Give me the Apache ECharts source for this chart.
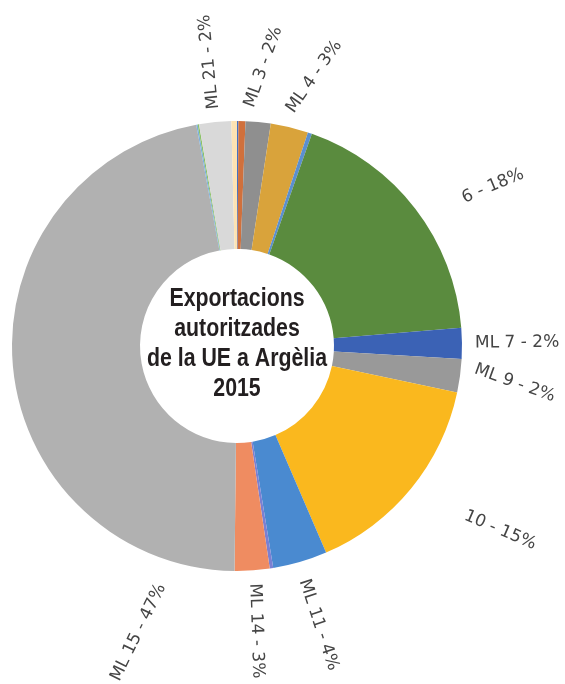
<!DOCTYPE html>
<html>
<head>
<meta charset="utf-8">
<style>
  html, body { margin: 0; height: 100%; background: #fff; }
  #container { width: 565px; height: 684px; }
</style>
</head>
<body>
<div id="container"></div>
<script src="https://cdn.jsdelivr.net/npm/echarts@6/dist/echarts.min.js"></script>
<script>
  // slices, clockwise from 12 o'clock
  const names = ['ML 1', 'ML 2', 'ML 3', 'ML 4', 'ML 5', 'ML 6', 'ML 7', 'ML 9', 'ML 10', 'ML 11',
    'ML 13', 'ML 14', 'ML 15', 'ML 16', 'ML 18', 'ML 21', 'ML 22'];
  const shares = [0.1, 0.5, 1.8, 2.7, 0.3, 18.3, 2.2, 2.4, 15.2, 3.9,
    0.25, 2.5, 46.9, 0.1, 0.1, 2.3, 0.4];
  // text shown in the labels ('' = no label)
  const labelNames = ['', '', 'ML 3', 'ML 4', '', '6', 'ML 7', 'ML 9', '10', 'ML 11',
    '', 'ML 14', 'ML 15', '', '', 'ML 21', ''];
  const colors = ['#4472c4', '#d0703c', '#8f8f8f', '#d9a33b', '#5b8fcf', '#5a8b3e', '#3b62b5', '#999999', '#fab81e', '#4a8ad0',
    '#7b80d2', '#ef8c61', '#b1b1b1', '#7cafdd', '#8cc168', '#d9d9d9', '#fde3b3'];
  const centerTitle = ['Exportacions', 'autoritzades', 'de la UE a Argèlia', '2015'];

  const CX = 237, CY = 346, R0 = 97, R = 225;

  const total = shares.reduce((a, b) => a + b, 0);
  const midAngles = [];
  let acc = 0;
  shares.forEach(v => {
    midAngles.push((acc + v / 2) / total * 360);
    acc += v;
  });

  // labels were hand placed in the original, so nudge some of them
  const labelTweak = {
    'ML 3': { tilt: -14 },
    'ML 4': { angle: 16, tilt: -19 },
    'ML 6': { angle: 58, tilt: -9, gap: 31 },
    'ML 9': { tilt: -12 },
    'ML 10': { angle: 125, tilt: 12, gap: 45 },
    'ML 11': { tilt: 2, gap: 5 },
    'ML 14': { tilt: -2 },
    'ML 15': { angle: 199, tilt: -7, gap: 12 }
  };

  function placeLabel(p) {
    const i = p.dataIndex;
    const t = labelTweak[names[i]] || {};
    const a = t.angle != null ? t.angle : midAngles[i];
    const d = R + 13 + (t.gap || 0) + p.labelRect.width / 2;
    const rad = a * Math.PI / 180;
    let rot = 90 - a;
    while (rot > 180) rot -= 360;
    while (rot <= -180) rot += 360;
    if (Math.abs(rot) > 100) rot += rot > 0 ? -180 : 180;
    return {
      x: CX + d * Math.sin(rad),
      y: CY - d * Math.cos(rad),
      rotate: rot + (t.tilt || 0),
      align: 'center',
      verticalAlign: 'middle'
    };
  }

  var myChart = echarts.init(document.getElementById('container'));
  var option = {
    backgroundColor: '#fff',
    animation: false,
    graphic: [{
      type: 'text',
      x: CX,
      y: 344,
      scaleX: 0.82,   // no narrow font installed, squeeze Liberation Sans instead
      z: 100,
      style: {
        text: centerTitle.join('\n'),
        fontFamily: '"Liberation Sans", Arial, sans-serif',
        fontWeight: 'bold',
        fontSize: 26,
        lineHeight: 30,
        fill: '#231f20',
        align: 'center',
        verticalAlign: 'middle'
      }
    }],
    series: [{
      type: 'pie',
      center: [CX, CY],
      radius: [R0, R],
      startAngle: 90,
      clockwise: true,
      silent: true,
      avoidLabelOverlap: false,
      label: {
        show: true,
        position: 'outside',
        rotate: 0,
        fontFamily: 'DejaVu Sans',
        fontSize: 17,
        color: '#454545',
        formatter: p => labelNames[p.dataIndex] + ' - ' + Math.round(p.percent) + '%'
      },
      labelLine: { show: false },
      labelLayout: placeLabel,
      itemStyle: { borderWidth: 0 },
      data: names.map((n, i) => ({
        name: n,
        value: shares[i],
        itemStyle: { color: colors[i] },
        label: { show: labelNames[i] !== '' }
      }))
    }]
  };
  myChart.setOption(option);
</script>
</body>
</html>
